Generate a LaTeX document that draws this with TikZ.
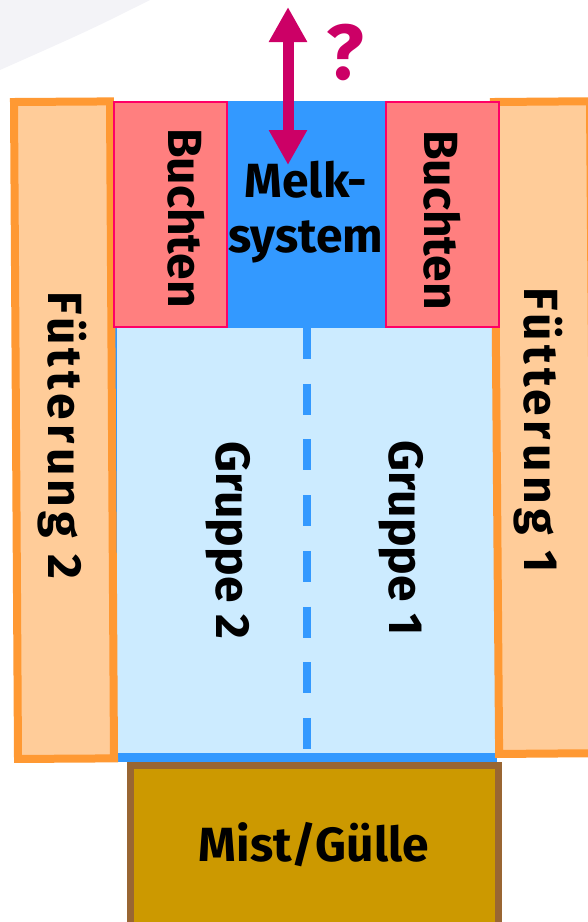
\documentclass[tikz,border=0pt]{standalone}
\usepackage{fontspec}
\setmainfont{Fira Sans}
\usetikzlibrary{arrows.meta}
\definecolor{feedfill}{HTML}{FFCC99}
\definecolor{feedline}{HTML}{FF9933}
\definecolor{melkblue}{HTML}{3399FF}
\definecolor{groupblue}{HTML}{CCEBFF}
\definecolor{penfill}{HTML}{FF7F7F}
\definecolor{penline}{HTML}{FF0066}
\definecolor{mistfill}{HTML}{CC9900}
\definecolor{mistline}{HTML}{996633}
\definecolor{askcol}{HTML}{CC0066}
\definecolor{cornergray}{HTML}{F3F3F7}
\begin{document}
\begin{tikzpicture}[
	x=1pt, y=-1pt,
	area/.style={rectangle, inner sep=0pt, outer sep=0pt, anchor=north west},
	feed/.style={area, fill=feedfill, draw=feedline, line width=8pt},
	pen/.style={area, fill=penfill, draw=penline, line width=1.5pt},
	lbl/.style={inner sep=0pt, align=center, font=\fontsize{48}{55}\selectfont\bfseries},
	]
	\useasboundingbox (0,0) rectangle (587,922);
	\fill[cornergray] (0,0) -- (150,0) .. controls (90,30) .. (0,70) -- cycle;

	%milking + groups
	\node[area, fill=melkblue, minimum width=383pt, minimum height=661pt] (melk) at (114,101) {};
	\node[area, fill=groupblue, minimum width=378pt, minimum height=425pt] (gruppen) at (117,328) {};
	\coordinate (divTop) at (307,328);
	\coordinate (divBot) at (307,752);
	\draw[melkblue, line width=8pt, dash pattern=on 31pt off 24.7pt] (divTop) -- (divBot);

	%feeding
	\node[feed, rotate=0.35, minimum width=96pt, minimum height=657pt] (fuetter2) at (14,102) {};
	\node[feed, rotate=0.45, minimum width=96pt, minimum height=652pt] (fuetter1) at (494,102) {};

	%pens
	\node[pen, minimum width=113pt, minimum height=225pt] (buchtenL) at (114,102) {};
	\node[pen, minimum width=113pt, minimum height=225pt] (buchtenR) at (386,102) {};

	%manure
	\node[area, fill=mistfill, draw=mistline, line width=7pt, minimum width=368pt, minimum height=170pt] (mist) at (130.5,765.5) {};

	%texts
	\node[lbl, rotate=-90] (tBuchtenL) at (186,218) {Buchten};
	\node[lbl, rotate=-90] (tBuchtenR) at (442,220) {Buchten};
	\node[lbl, rotate=-90] (tFuetter2) at (62,435) {\addfontfeature{LetterSpace=9}Fütterung 2};
	\node[lbl, rotate=-90] (tFuetter1) at (538,430) {\addfontfeature{LetterSpace=9}Fütterung 1};
	\node[lbl, rotate=-90] (tGruppe2) at (228,540) {Gruppe 2};
	\node[lbl, rotate=-90] (tGruppe1) at (401,538) {Gruppe 1};
	\node[lbl] (tMelk) at (306,212) {Melk-\\system};
	\node[lbl] (tMist) at (314,845) {Mist/Gülle};

	%arrow
	\coordinate (askTop) at (288,7);
	\coordinate (askBot) at (288,165);
	\draw[askcol, line width=11pt, {Triangle[width=36pt,length=35pt]}-{Triangle[width=36pt,length=35pt]}] (askTop) -- (askBot);
	\node[text=askcol, inner sep=0pt, font=\fontsize{78}{78}\selectfont\bfseries] (ask) at (345,52) {?};
\end{tikzpicture}
\end{document}
